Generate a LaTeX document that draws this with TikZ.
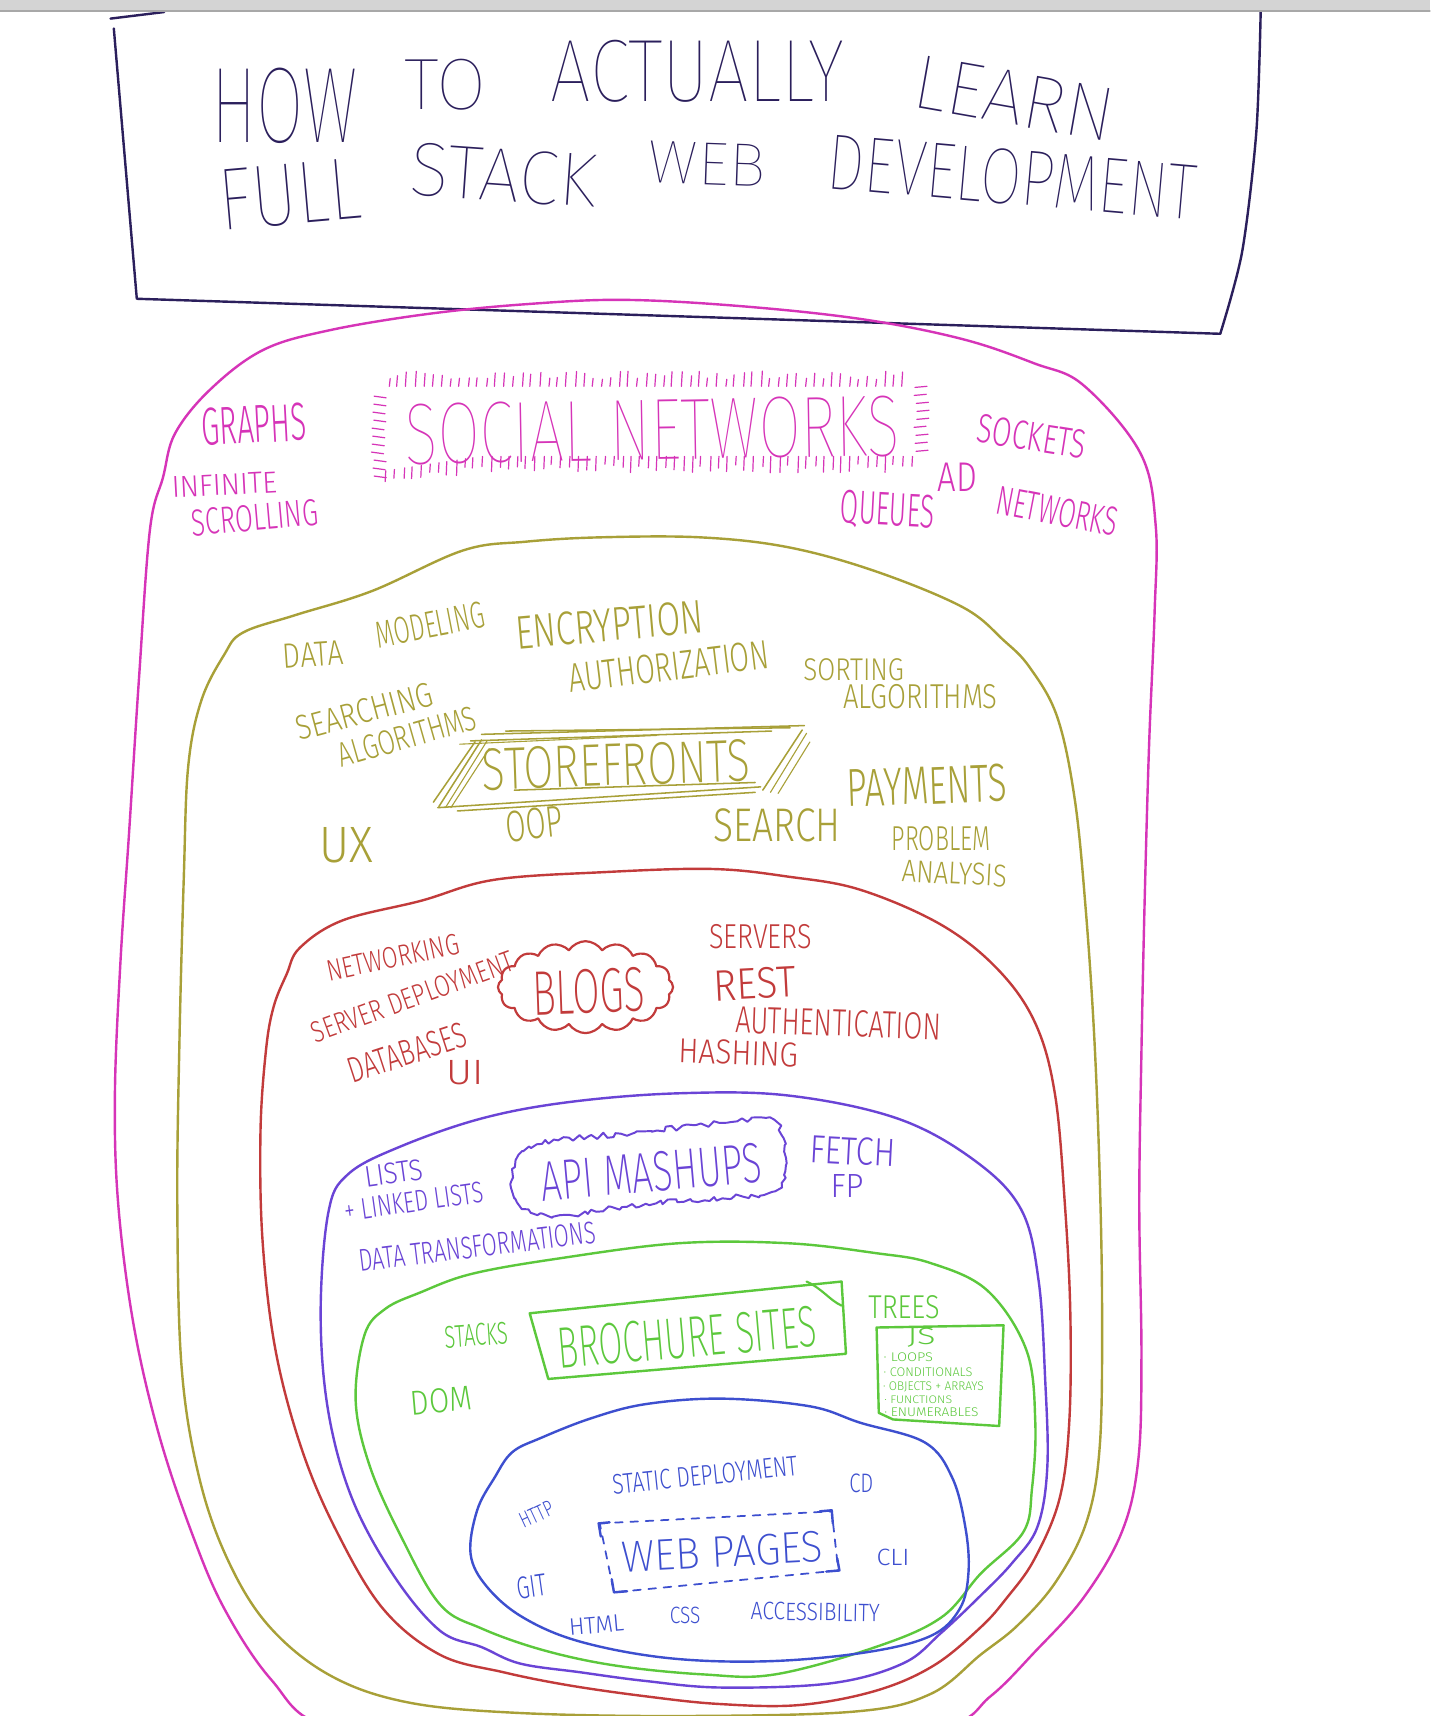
\documentclass[tikz,border=0pt]{standalone}
\usepackage{fontspec}
\IfFontExistsTF{Fira Sans Light}{\setmainfont{Fira Sans Light}}{\setmainfont{Fira Sans}}
\IfFontExistsTF{Fira Sans Thin}{\newfontfamily\thinfont{Fira Sans Thin}}{%
  \IfFontExistsTF{Fira Sans ExtraLight}{\newfontfamily\thinfont{Fira Sans ExtraLight}}{\newcommand\thinfont{}}}
\IfFontExistsTF{Fira Sans ExtraLight}{\newfontfamily\midfont{Fira Sans ExtraLight}}{\newcommand\midfont{}}
\usepackage{graphicx}
\usetikzlibrary{shapes.symbols,decorations.pathmorphing}
\definecolor{navy}{HTML}{2B1F5C}
\definecolor{mag}{HTML}{D634B8}
\definecolor{oli}{HTML}{A8A038}
\definecolor{redc}{HTML}{C23B3B}
\definecolor{pur}{HTML}{6A44D6}
\definecolor{grn}{HTML}{5CC83C}
\definecolor{blu}{HTML}{3D4FCF}
\definecolor{barg}{HTML}{D4D4D4}
\definecolor{barline}{HTML}{A8A8A8}
\setlength{\unitlength}{0.5pt}
\newcommand\hlab[8]{\node[lbltxt,text=#2,rotate=#7] (#1) at (#3,#4) {\resizebox{#5\unitlength}{#6\unitlength}{#8}};}
\newcommand\hlabT[8]{\node[lbltxt,text=#2,rotate=#7] (#1) at (#3,#4) {\resizebox{#5\unitlength}{#6\unitlength}{\thinfont #8}};}
\newcommand\hlabM[8]{\node[lbltxt,text=#2,rotate=#7] (#1) at (#3,#4) {\resizebox{#5\unitlength}{#6\unitlength}{\midfont #8}};}
\begin{document}
\begin{tikzpicture}[x=0.5pt,y=-0.5pt,line cap=round,line join=round,
  lbltxt/.style={inner sep=0pt,outer sep=0pt},
  blob/.style={line width=1.1pt},
  tick/.style={mag,line width=0.55pt},
  sketch/.style={oli,line width=0.7pt}]
\useasboundingbox (0,0) rectangle (1307,1568);
\clip (0,0) rectangle (1307,1568);
\fill[white] (0,0) rectangle (1307,1568);

% ---------- title box ----------
\draw[navy,line width=1.1pt] (104,26) -- (125,273) -- (1115,305);
\draw[navy,line width=1.1pt] plot[smooth] coordinates {(1152,8) (1148,120) (1135,230) (1115,305)};
\draw[navy,line width=1.1pt] (101,17) -- (150,11);
\hlabT{t1}{navy}{260}{97}{134}{68}{0}{HOW}
\hlabT{t2}{navy}{407}{77}{75}{46}{0}{TO}
\hlabT{t3}{navy}{637}{65}{268}{56}{0}{ACTUALLY}
\hlabT{t4}{navy}{927}{90}{185}{48}{-10}{LEARN}
\hlabT{t5}{navy}{265}{178}{130}{55}{5}{FULL}
\hlabT{t6}{navy}{460}{160}{170}{48}{-4}{STACK}
\hlabT{t7}{navy}{646}{150}{107}{38}{-2}{WEB}
\hlabT{t8}{navy}{925}{162}{338}{50}{-5}{DEVELOPMENT}

% ---------- blobs ----------
\draw[mag,blob] plot[smooth cycle,tension=0.6] coordinates {
(137,484) (149,436) (160,396) (192,356) (240,320) (300,302) (390,287) (480,278) (570,274) (680,280) (790,292) (880,310) (945,332) (990,352) (1042,414) (1056,480) (1055,560) (1050,680) (1046,820) (1043,960) (1041,1100) (1043,1240) (1040,1335) (1025,1400) (990,1460) (945,1510) (905,1550) (860,1578) (700,1595) (450,1595) (300,1578) (248,1535) (205,1470) (175,1400) (145,1310) (122,1210) (108,1100) (105,1000) (110,880) (118,760) (127,620)};
\draw[oli,blob] plot[smooth cycle,tension=0.6] coordinates {
(205,598) (222,578) (270,562) (340,540) (423,503) (480,495) (548,491) (640,491) (720,500) (800,522) (880,555) (917,585) (941,610) (966,655) (982,730) (992,830) (1000,950) (1005,1080) (1007,1200) (1005,1320) (993,1390) (965,1445) (930,1485) (896,1512) (850,1548) (780,1564) (620,1568) (470,1565) (370,1555) (300,1530) (245,1485) (208,1425) (182,1350) (166,1250) (162,1100) (164,950) (168,800) (172,700) (184,640)};
\draw[redc,blob] plot[smooth cycle,tension=0.6] coordinates {
(262,890) (274,866) (313,841) (385,823) (451,804) (550,797) (650,794) (720,801) (786,813) (860,845) (912,886) (946,935) (964,1000) (973,1100) (978,1200) (977,1300) (968,1370) (945,1425) (920,1460) (896,1487) (853,1522) (800,1545) (730,1558) (657,1557) (590,1550) (520,1540) (460,1528) (402,1512) (350,1470) (308,1400) (276,1325) (252,1235) (240,1135) (238,1035) (243,960) (250,920)};
\draw[pur,blob] plot[smooth cycle,tension=0.6] coordinates {
(300,1108) (318,1073) (365,1048) (440,1022) (520,1007) (620,999) (720,1001) (820,1022) (890,1060) (933,1105) (949,1170) (955,1260) (957,1340) (948,1395) (925,1428) (896,1458) (860,1492) (825,1520) (760,1538) (660,1542) (590,1536) (530,1528) (475,1520) (440,1505) (402,1490) (360,1440) (322,1370) (300,1290) (293,1200)};
\draw[grn,blob] plot[smooth cycle,tension=0.6] coordinates {
(333,1220) (352,1196) (384,1181) (431,1164) (510,1150) (620,1136) (720,1136) (800,1145) (850,1154) (902,1179) (938,1234) (946,1300) (943,1360) (935,1400) (896,1438) (860,1478) (800,1505) (708,1530) (643,1530) (563,1522) (497,1508) (440,1488) (402,1466) (367,1405) (338,1340) (325,1280)};
\draw[blu,blob] plot[smooth cycle,tension=0.6] coordinates {
(468,1327) (494,1314) (540,1296) (590,1283) (660,1278) (740,1285) (786,1300) (845,1318) (870,1350) (882,1395) (885,1436) (877,1470) (850,1495) (790,1510) (700,1518) (610,1515) (530,1500) (478,1478) (445,1450) (430,1420) (436,1380) (452,1350)};

% ---------- social networks (magenta) ----------
\pgfmathsetseed{7}
\foreach \i in {0,...,58}{
  \pgfmathsetmacro\xa{354+\i*8.1+2*rnd}
  \pgfmathsetmacro\la{6+8*rnd}
  \draw[tick] (\xa,353) -- ++(0.8,-\la);
}
\foreach \i in {0,...,60}{
  \pgfmathsetmacro\xa{352+\i*8+2*rnd}
  \pgfmathsetmacro\yb{417+max(0,440-\xa)*0.15}
  \pgfmathsetmacro\la{7+8*rnd}
  \draw[tick] (\xa,\yb) -- ++(-0.5,\la);
}
\foreach \j in {0,...,10}{
  \pgfmathsetmacro\xa{339+4*rnd}
  \draw[tick] (\xa,{362+\j*7.3}) -- ++(11,1.5);
}
\foreach \j in {0,...,8}{
  \pgfmathsetmacro\xa{835+3*rnd}
  \draw[tick] (\xa,{354+\j*7.3}) -- ++(11,-1);
}
\hlab{m1}{mag}{232}{388}{96}{34}{3}{GRAPHS}
\hlab{m2}{mag}{205}{443}{96}{19}{3}{INFINITE}
\hlab{m3}{mag}{233}{473}{116}{24}{5}{SCROLLING}
\hlabT{m4}{mag}{596}{393}{452}{55}{1}{SOCIAL NETWORKS}
\hlab{m5}{mag}{943}{399}{100}{26}{-9}{SOCKETS}
\hlab{m6}{mag}{875}{436}{36}{26}{0}{AD}
\hlab{m7}{mag}{966}{467}{112}{26}{-11}{NETWORKS}
\hlab{m8}{mag}{811}{467}{86}{30}{-3}{QUEUES}

% ---------- storefronts (olive) ----------
\draw[sketch] (440,671) -- (735,663);
\draw[sketch] (430,677) -- (705,668);
\draw[sketch] (462,668) -- (722,665);
\draw[sketch,line width=0.5pt] (420,680) -- (600,672);
\draw[sketch] (400,738) -- (695,719);
\draw[sketch] (418,741) -- (690,724);
\draw[sketch] (470,722) -- (690,715);
\draw[sketch] (396,733) -- (434,678);
\draw[sketch] (401,737) -- (440,676);
\draw[sketch,line width=0.5pt] (407,738) -- (445,677);
\draw[sketch,line width=0.5pt] (412,738) -- (447,684);
\draw[sketch] (697,722) -- (733,667);
\draw[sketch,line width=0.5pt] (704,724) -- (737,670);
\draw[sketch,line width=0.5pt] (711,725) -- (740,678);
\hlab{o1}{oli}{286}{598}{55}{22}{4}{DATA}
\hlab{o2}{oli}{393}{571}{100}{24}{11}{MODELING}
\hlab{o3}{oli}{557}{571}{172}{30}{5}{ENCRYPTION}
\hlab{o4}{oli}{611}{609}{184}{26}{7}{AUTHORIZATION}
\hlab{o5}{oli}{780}{612}{92}{20}{0}{SORTING}
\hlab{o6}{oli}{841}{637}{141}{22}{0}{ALGORITHMS}
\hlab{o7}{oli}{333}{650}{128}{22}{15}{SEARCHING}
\hlab{o8}{oli}{372}{673}{130}{22}{16}{ALGORITHMS}
\hlabM{o9}{oli}{563}{699}{245}{38}{2}{STOREFRONTS}
\hlab{o10}{oli}{488}{753}{52}{28}{6}{OOP}
\hlab{o11}{oli}{710}{754}{116}{30}{0}{SEARCH}
\hlab{o12}{oli}{316}{772}{49}{32}{0}{UX}
\hlab{o13}{oli}{847}{718}{146}{34}{2}{PAYMENTS}
\hlab{o14}{oli}{860}{766}{90}{22}{0}{PROBLEM}
\hlab{o15}{oli}{872}{798}{96}{20}{-3}{ANALYSIS}

% ---------- blogs (red) ----------
\node[cloud,draw=redc,line width=1pt,cloud puffs=16,cloud puff arc=115,aspect=2,
  minimum width=80pt,minimum height=42pt,inner sep=0pt] (cloudb) at (535,902) {};
\hlab{r1}{redc}{359}{875}{123}{19}{12}{NETWORKING}
\hlab{r2}{redc}{377}{911}{195}{19}{20}{SERVER DEPLOYMENT}
\hlab{r3}{redc}{372}{962}{112}{23}{18}{DATABASES}
\hlab{r4}{redc}{425}{980}{34}{22}{0}{UI}
\hlabM{r5}{redc}{538}{906}{103}{40}{2}{BLOGS}
\hlab{r6}{redc}{695}{856}{94}{22}{0}{SERVERS}
\hlab{r7}{redc}{690}{899}{75}{28}{3}{REST}
\hlab{r8}{redc}{766}{935}{188}{24}{-2}{AUTHENTICATION}
\hlab{r9}{redc}{675}{962}{110}{22}{-2}{HASHING}

% ---------- api mashups (purple) ----------
\draw[pur,line width=0.9pt,decorate,decoration={random steps,segment length=2.2pt,amplitude=1.3pt}]
  plot[smooth cycle] coordinates {(467,1082) (478,1052) (510,1042) (580,1035) (650,1027) (700,1022) (716,1040) (718,1065) (708,1088) (660,1095) (590,1100) (520,1110) (485,1108) (470,1095)};
\hlab{p1}{pur}{360}{1072}{54}{19}{8}{LISTS}
\hlab{p2}{pur}{378}{1098}{128}{19}{8}{+ LINKED LISTS}
\hlab{p3}{pur}{436}{1139}{218}{20}{7}{DATA TRANSFORMATIONS}
\hlabM{p4}{pur}{595}{1071}{202}{36}{5}{API MASHUPS}
\hlab{p5}{pur}{779}{1052}{78}{25}{-3}{FETCH}
\hlab{p6}{pur}{774}{1084}{30}{21}{0}{FP}

% ---------- brochure sites (green) ----------
\draw[grn,line width=1.1pt] (484,1200) -- (769,1171) -- (773,1237) -- (501,1260) -- cycle;
\draw[grn,line width=1pt] (737,1171) .. controls (752,1178) and (758,1188) .. (769,1193);
\draw[grn,line width=1.1pt] (801,1213) -- (917,1211) -- (913,1303) -- (816,1297) -- (803,1291) -- cycle;
\hlab{g1}{grn}{435}{1220}{58}{20}{4}{STACKS}
\hlabM{g2}{grn}{628}{1222}{237}{37}{5}{BROCHURE SITES}
\hlab{g3}{grn}{826}{1194}{65}{21}{0}{TREES}
\hlab{g4}{grn}{403}{1280}{56}{22}{5}{DOM}
\hlab{j0}{grn}{842}{1222}{26}{15}{0}{JS}
\hlab{j1}{grn}{830}{1240}{45}{8}{0}{· LOOPS}
\hlab{j2}{grn}{848}{1254}{81}{8}{0}{· CONDITIONALS}
\hlab{j3}{grn}{853}{1267}{92}{8}{0}{· OBJECTS + ARRAYS}
\hlab{j4}{grn}{839}{1279}{62}{7}{0}{· FUNCTIONS}
\hlab{j5}{grn}{851}{1290}{86}{8}{0}{· ENUMERABLES}

% ---------- web pages (blue) ----------
\draw[blu,line width=0.8pt,dash pattern=on 3.5pt off 3.5pt] (548,1392) -- (760,1381) -- (766,1435) -- (561,1455) -- cycle;
\draw[blu,line width=1.1pt] (549,1404) -- (547,1392) -- (557,1391);
\draw[blu,line width=1.1pt] (749,1381) -- (760,1380) -- (761,1392);
\draw[blu,line width=1.1pt] (765,1424) -- (767,1435) -- (755,1436);
\draw[blu,line width=1.1pt] (559,1443) -- (561,1455) -- (573,1454);
\hlab{b1}{blu}{644}{1348}{170}{18}{6}{STATIC DEPLOYMENT}
\hlab{b2}{blu}{787}{1355}{22}{17}{0}{CD}
\hlab{b3}{blu}{490}{1384}{32}{14}{25}{HTTP}
\hlabM{b4}{blu}{660}{1418}{184}{28}{3}{WEB PAGES}
\hlab{b5}{blu}{816}{1423}{30}{15}{0}{CLI}
\hlab{b6}{blu}{486}{1450}{27}{20}{8}{GIT}
\hlab{b7}{blu}{545}{1485}{50}{15}{5}{HTML}
\hlab{b8}{blu}{626}{1476}{28}{15}{0}{CSS}
\hlab{b9}{blu}{745}{1473}{118}{16}{-1}{ACCESSIBILITY}

% ---------- window bar ----------
\fill[barg] (0,0) rectangle (1307,10);
\draw[barline,line width=0.6pt] (0,10) -- (1307,10);
\end{tikzpicture}
\end{document}
